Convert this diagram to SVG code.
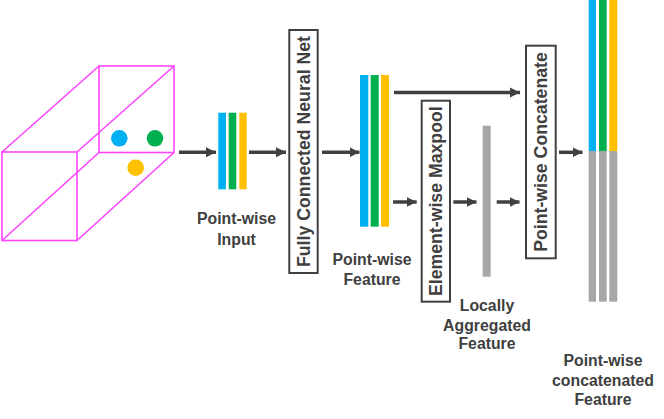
<svg xmlns="http://www.w3.org/2000/svg" width="664" height="419" viewBox="0 0 664 419">
<style>
.cube{fill:none;stroke:#FF44FF;stroke-width:1.6}
.box{fill:#fff;stroke:#404040;stroke-width:2}
.btxt{font-family:"Liberation Sans",Arial,sans-serif;font-weight:bold;font-size:17.7px;fill:#404040;text-anchor:middle;dominant-baseline:central}
.lbl{font-family:"Liberation Sans",Arial,sans-serif;font-weight:bold;font-size:15.8px;fill:#404040;text-anchor:middle}
.arr{stroke:#404040;stroke-width:3.5;fill:none;marker-end:url(#ah)}
.b{fill:#00B0F0}.g{fill:#00B050}.y{fill:#FFC000}.gr{fill:#A6A8A7}
</style>
<defs>
<marker id="ah" markerUnits="userSpaceOnUse" markerWidth="11" markerHeight="11" refX="10" refY="5.5" orient="auto" viewBox="0 0 11 11">
<path d="M0,0.5 L10,5.5 L0,10.5 Z" fill="#404040"/>
</marker>
</defs>
<rect width="664" height="419" fill="#fff"/>
<g id="point-cloud">
<rect class="cube" x="2" y="152" width="75" height="88.5"/>
<rect class="cube" x="99" y="66" width="75" height="86.5"/>
<line class="cube" x1="2" y1="152" x2="99" y2="66"/>
<line class="cube" x1="77" y1="152" x2="174" y2="66"/>
<line class="cube" x1="77" y1="240.5" x2="174" y2="152.5"/>
<line class="cube" x1="2" y1="240.5" x2="99" y2="152.5"/>
<circle cx="119.3" cy="138.3" r="8.3" fill="#00B0F0"/>
<circle cx="155" cy="138.3" r="8.3" fill="#00B050"/>
<circle cx="135.7" cy="167.7" r="8.3" fill="#FFC000"/>
</g>
<g id="connectors">
<line class="arr" x1="179" y1="152.3" x2="216" y2="152.3"/>
<line class="arr" x1="249" y1="152.3" x2="286" y2="152.3"/>
<line class="arr" x1="322" y1="152.3" x2="359.5" y2="152.3"/>
<line class="arr" x1="394" y1="92.5" x2="520" y2="92.5"/>
<line class="arr" x1="393" y1="202" x2="416.7" y2="202"/>
<line class="arr" x1="453.3" y1="202" x2="476.5" y2="202"/>
<line class="arr" x1="496.7" y1="202" x2="519.5" y2="202"/>
<line class="arr" x1="559" y1="152.3" x2="582.5" y2="152.3"/>
</g>
<g id="pointwise-input">
<rect class="b" x="218.3" y="112.7" width="7.7" height="76.6"/>
<rect class="g" x="228.7" y="112.7" width="7.6" height="76.6"/>
<rect class="y" x="239.3" y="112.7" width="7.4" height="76.6"/>
<text class="lbl" x="236.5" y="224">Point-wise</text>
<text class="lbl" x="236.5" y="244.5">Input</text>
</g>
<g id="fc-net">
<rect class="box" x="289.3" y="30" width="28.4" height="243"/>
<text class="btxt" transform="translate(303.5,151.5) rotate(-90)">Fully Connected Neural Net</text>
</g>
<g id="pointwise-feature">
<rect class="b" x="360" y="75" width="8.3" height="151.7"/>
<rect class="g" x="370.7" y="75" width="8" height="151.7"/>
<rect class="y" x="381" y="75" width="8" height="151.7"/>
<text class="lbl" x="372" y="265">Point-wise</text>
<text class="lbl" x="372" y="285">Feature</text>
</g>
<g id="maxpool">
<rect class="box" x="421.7" y="100.7" width="28.3" height="201"/>
<text class="btxt" transform="translate(435.8,201.2) rotate(-90)">Element-wise Maxpool</text>
</g>
<g id="local-feature">
<rect class="gr" x="482.7" y="125.7" width="8" height="151"/>
<text class="lbl" x="487" y="310.5">Locally</text>
<text class="lbl" x="487" y="330.5">Aggregated</text>
<text class="lbl" x="487" y="349">Feature</text>
</g>
<g id="concatenate">
<rect class="box" x="526" y="45.7" width="29.7" height="212.6"/>
<text class="btxt" transform="translate(540.8,152) rotate(-90)">Point-wise Concatenate</text>
</g>
<g id="concat-feature">
<rect class="b" x="588.7" y="0" width="7.3" height="151"/>
<rect class="g" x="599" y="0" width="7.7" height="151"/>
<rect class="y" x="609.3" y="0" width="8" height="151"/>
<rect class="gr" x="588.7" y="151" width="7.3" height="150.7"/>
<rect class="gr" x="599" y="151" width="7.7" height="150.7"/>
<rect class="gr" x="609.3" y="151" width="8" height="150.7"/>
<text class="lbl" x="603" y="366">Point-wise</text>
<text class="lbl" x="603" y="386">concatenated</text>
<text class="lbl" x="603" y="405">Feature</text>
</g>
</svg>
